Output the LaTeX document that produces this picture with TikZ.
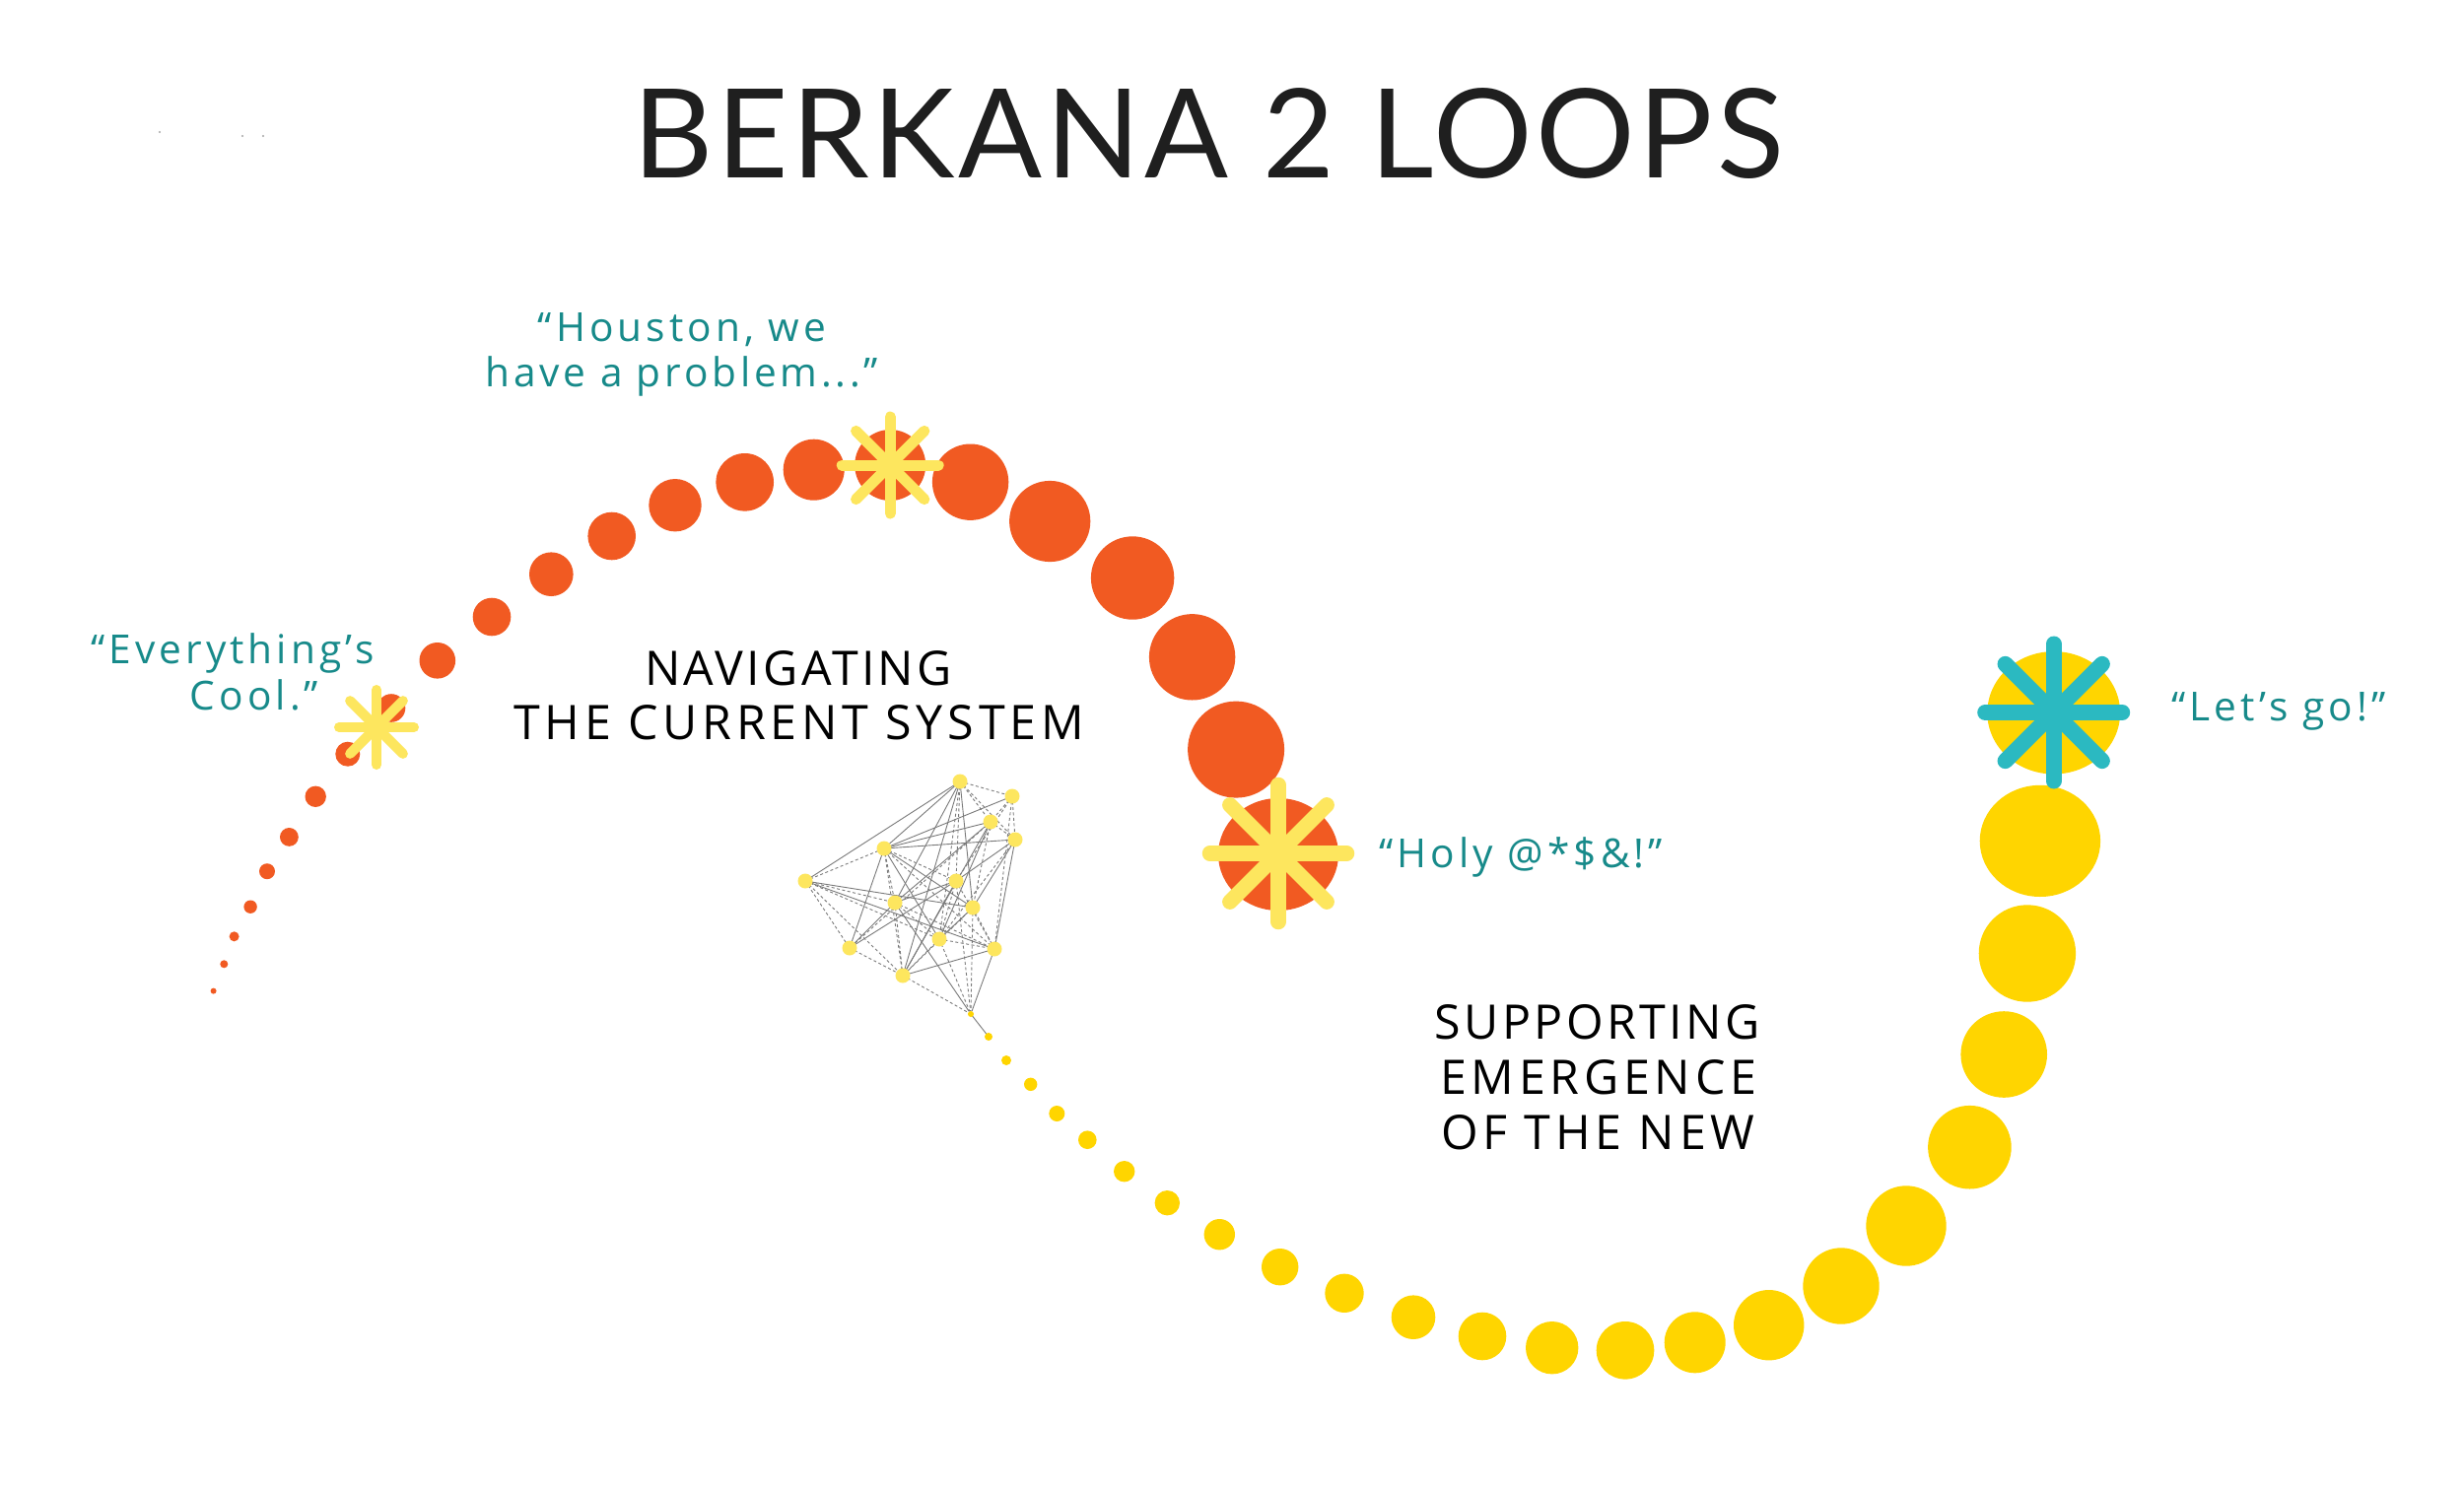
\documentclass[tikz,border=0pt]{standalone}
\usepackage{fontspec}
\usetikzlibrary{shapes.geometric}
\setmainfont{Open Sans}
\newfontfamily\titlefont[LetterSpace=2.9]{Lato}
\newfontfamily\quotefont[LetterSpace=10]{Open Sans}
\newfontfamily\labelfont[LetterSpace=7]{Open Sans}
\newfontfamily\labelwidefont[LetterSpace=9.9]{Open Sans}
\newfontfamily\probfont[LetterSpace=9.3]{Open Sans}
\definecolor{orng}{HTML}{F15A22}
\definecolor{ylw}{HTML}{FFD500}
\definecolor{lylw}{HTML}{FDE65E}
\definecolor{tealstar}{HTML}{2BB9C1}
\definecolor{tealtext}{HTML}{178A8A}
\definecolor{netgrey}{HTML}{7A7A7A}
\tikzset{
  odot/.style={circle, fill=orng, draw=none, inner sep=0pt, minimum size=#1},
  ydot/.style={circle, fill=ylw, draw=none, inner sep=0pt, minimum size=#1},
  yell/.style={ellipse, fill=ylw, draw=none, inner sep=0pt},
  oell/.style={ellipse, fill=orng, draw=none, inner sep=0pt},
  netnode/.style={circle, fill=lylw, draw=none, inner sep=0pt, minimum size=15},
  solidedge/.style={draw=netgrey, line width=0.9},
  dashedge/.style={draw=netgrey, line width=0.9, dash pattern=on 3 off 2.5},
  starray/.style={line cap=round, line width=#1},
  qtext/.style={font=\quotefont\fontsize{40.6}{48}\selectfont, text=tealtext, inner sep=0pt, anchor=base},
  lbltext/.style={font=\labelfont\fontsize{48.3}{56}\selectfont, text=black, inner sep=0pt, anchor=base},
  lblwide/.style={font=\labelwidefont\fontsize{48.3}{56}\selectfont, text=black, inner sep=0pt, anchor=base},
  speck/.style={circle, fill=gray!70, draw=none, inner sep=0pt, minimum size=2.4}
}
\begin{document}
\begin{tikzpicture}[x=1pt,y=-1pt]
\useasboundingbox (0,0) rectangle (2500,1510);
\fill[white] (0,0) rectangle (2500,1510);

% title
\node[font=\titlefont\fontsize{125.6}{130}\selectfont, text=black!88, inner sep=0pt, anchor=base] (title) at (1226,180) {BERKANA 2 LOOPS};
\node[speck] (sp1) at (162,134) {};
\node[speck] (sp2) at (246,138) {};
\node[speck] (sp3) at (267,138) {};

% orange loop
\foreach \x/\y/\r [count=\i] in {216.6/1005.6/3, 227.3/978.3/4, 237.6/950.3/5, 254.1/920.2/6.7, 271/884.2/8, 293.4/849.4/9.4, 320.2/808.3/10.7, 352.8/765.2/12.5, 397/718.5/14.3, 443.8/670.3/18.3, 499/626/19.3, 559.3/582.7/22.3, 620.7/544/24.3, 685/512.7/26.7, 755.7/489.3/29.3, 825.7/476.7/31, 903.2/472/36, 984.6/489.2/38.7, 1065.2/529/41.1, 1149.1/586.5/42.2, 1209.6/666.8/43.7, 1254.1/760.6/49}
  \node[odot={2*\r}] (o\i) at (\x,\y) {};
\node[oell, minimum width=122, minimum height=114] (o23) at (1297,867) {};

% network
\draw[solidedge] (1003,1052) -- (985,1029);
\foreach \n/\x/\y in {n1/974/793, n2/1027/808, n3/1005/834, n4/1030/852, n5/897/861, n6/817/894, n7/970/894, n8/908/916, n9/987/921, n10/953/953, n11/862/962, n12/1009/963, n13/916/990}
  \coordinate (\n) at (\x,\y);
\node[ydot=6] (n14) at (985,1029) {};
\foreach \a/\b in {n6/n1, n1/n5, n1/n8, n1/n9, n1/n13, n3/n5, n3/n8, n3/n10, n3/n13, n4/n5, n4/n7, n4/n9, n4/n12, n5/n9, n5/n10, n5/n11, n6/n9, n6/n12, n7/n8, n7/n13, n8/n11, n8/n14, n9/n10, n12/n13, n12/n14, n2/n5, n7/n11}
  \draw[solidedge] (\a) -- (\b);
\foreach \a/\b in {n1/n2, n1/n3, n1/n4, n1/n7, n1/n10, n2/n3, n2/n4, n2/n7, n3/n4, n3/n9, n4/n10, n5/n7, n5/n12, n5/n13, n5/n8, n6/n5, n6/n8, n6/n10, n6/n11, n6/n13, n7/n10, n7/n12, n7/n14, n8/n10, n8/n12, n8/n13, n9/n13, n9/n12, n9/n14, n10/n12, n10/n13, n10/n14, n11/n13, n13/n14, n3/n11, n2/n12}
  \draw[dashedge] (\a) -- (\b);
\foreach \n in {n1,n2,n3,n4,n5,n6,n7,n8,n9,n10,n11,n12,n13}
  \node[netnode] at (\n) {};

% yellow loop
\foreach \x/\y/\r [count=\i] in {1003/1052/4, 1021/1076/5, 1045.7/1100.3/6.7, 1072.3/1130/8, 1103.3/1156.7/9.3, 1140.7/1188.7/10.7, 1184.3/1220.7/12.7, 1237.3/1252.7/15.7, 1298.7/1285.7/18.7, 1364/1312.3/19.7, 1434/1336.7/22.3, 1504/1356/24.3, 1574.7/1367.7/26.7, 1649/1370.3/29.3, 1719.7/1362.3/31, 1794.7/1344.7/35.7, 1868/1305/38.7, 1934/1244/40.7, 1998.4/1164.2/42.3, 2033.2/1070/43.8, 2056.9/967.5/49.2}
  \node[ydot={2*\r}] (y\i) at (\x,\y) {};
\node[yell, minimum width=122.4, minimum height=113.2] (y22) at (2069.9,853.4) {};
\node[yell, minimum width=134.8, minimum height=124.4] (y23) at (2083.7,723.3) {};

% stars
\coordinate (s1) at (382,738);
\coordinate (s2) at (903.2,472);
\coordinate (s3) at (1297,866);
\coordinate (s4) at (2083.7,723);
\foreach \a in {0,45,90,135} {
  \draw[starray=10, draw=lylw] (s1) ++(\a:38) -- ++(\a+180:76);
  \draw[starray=11, draw=lylw] (s2) ++(\a:49) -- ++(\a+180:98);
  \draw[starray=15.5, draw=lylw] (s3) ++(\a:69.5) -- ++(\a+180:139);
  \draw[starray=16, draw=tealstar] (s4) ++(\a:69.5) -- ++(\a+180:139);
}

% texts
\node[qtext] (q1a) at (236,673) {“Everything’s};
\node[qtext] (q1b) at (258,720.5) {Cool.”};
\node[qtext] (q2a) at (692,346) {“Houston, we};
\node[qtext, font=\probfont\fontsize{40.6}{48}\selectfont] (q2b) at (692,392.7) {have a problem...”};
\node[qtext] (q3) at (1543.3,880) {“Holy @*\$\&!”};
\node[qtext] (q4) at (2312,731) {“Let’s go!”};

\node[lbltext] (l1a) at (810,695) {NAVIGATING};
\node[lblwide] (l1b) at (810.5,750) {THE CURRENT SYSTEM};
\node[lbltext] (l2a) at (1620.5,1054) {SUPPORTING};
\node[lblwide] (l2b) at (1621.7,1110) {EMERGENCE};
\node[lblwide] (l2c) at (1621.3,1166) {OF THE NEW};
\end{tikzpicture}
\end{document}
